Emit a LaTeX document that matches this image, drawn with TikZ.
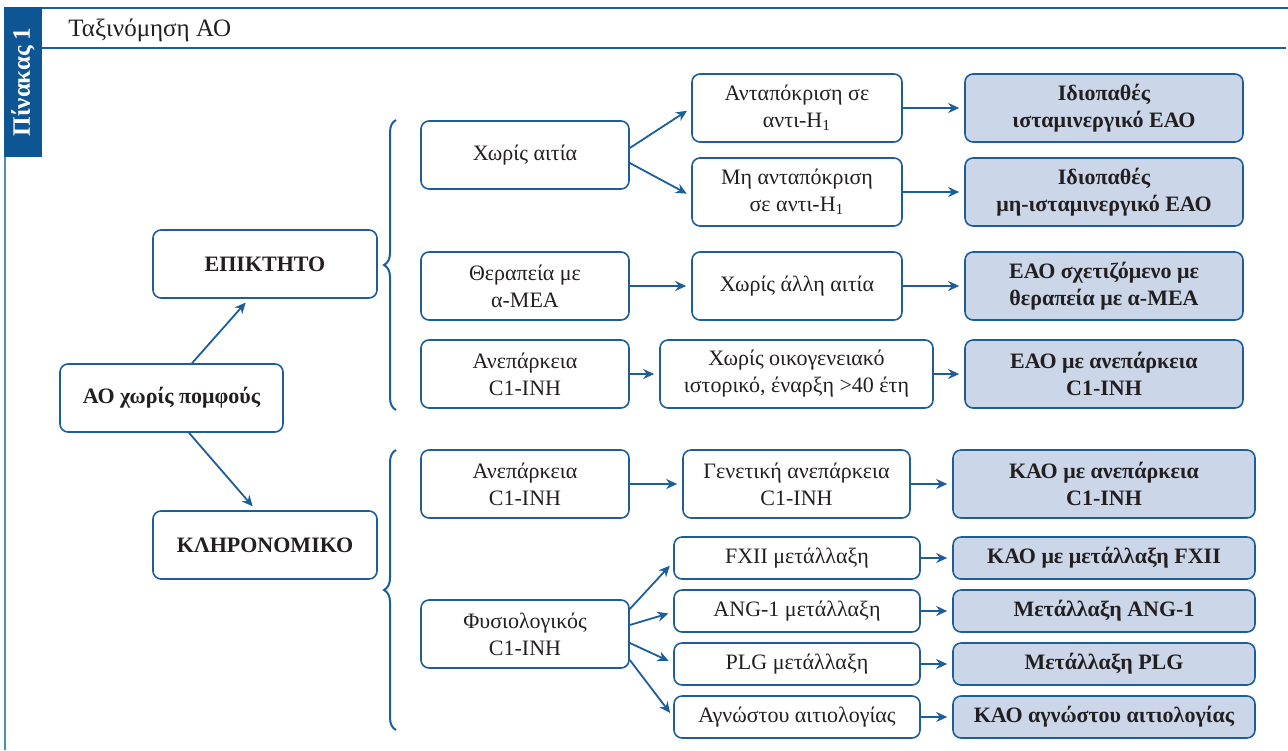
\documentclass[tikz,border=0pt]{standalone}
\usepackage{fontspec}
\setmainfont{Liberation Serif}
\usetikzlibrary{arrows.meta,decorations.pathreplacing,calc}
\definecolor{frameblue}{HTML}{1C5E9A}
\definecolor{tabblue}{HTML}{0E5593}
\definecolor{lightline}{HTML}{4A8DC2}
\definecolor{fillblue}{HTML}{CBD7E9}
\definecolor{txt}{HTML}{231F20}
\begin{document}
\begin{tikzpicture}[x=0.5pt,y=-0.5pt,
  box/.style={draw=frameblue, line width=0.8pt, rounded corners=4pt, align=center,
    inner sep=0pt, text=txt, font=\fontsize{11}{13.5}\selectfont},
  bbox/.style={box, font=\fontsize{11}{13.5}\selectfont\bfseries},
  res/.style={box, fill=fillblue, font=\fontsize{11}{13.5}\selectfont\bfseries},
  arr/.style={draw=frameblue, line width=0.9pt, shorten >=2.5pt,
    -{Stealth[length=5.5pt,width=5pt]}},
  brc/.style={draw=frameblue, line width=1pt, decorate,
    decoration={brace, amplitude=6pt}},
  wA/.style={minimum width=104pt, minimum height=34pt},
  wB/.style={minimum width=105pt, minimum height=34pt},
  wC/.style={minimum width=139pt, minimum height=34pt},
  wD/.style={minimum width=123pt, minimum height=21pt},
  wE/.style={minimum width=151pt, minimum height=21pt},
]
\useasboundingbox (0,0) rectangle (1288,750);

% frame
\fill[tabblue] (4,7) rectangle (42,157);
\node[rotate=90, text=white, inner sep=0pt, font=\fontsize{12.5}{14}\selectfont\bfseries] (tab) at (23,82) {Πίνακας 1};
\draw[frameblue, line width=0.8pt] (42,8) -- (1288,8);
\draw[frameblue, line width=0.8pt] (42,48) -- (1286,48);
\draw[lightline, line width=1pt] (5,157) -- (5,750);
\node[anchor=base west, inner sep=0pt, text=txt, font=\fontsize{12.5}{14}\selectfont] (title) at (68,36) {Ταξινόμηση ΑΟ};

% column 1
\node[bbox, minimum width=111.5pt, minimum height=34pt] (root) at (171.5,398) {ΑΟ χωρίς πομφούς};
\node[bbox, minimum width=112pt, minimum height=34pt] (acq) at (265,264) {ΕΠΙΚΤΗΤΟ};
\node[bbox, minimum width=112pt, minimum height=34pt] (her) at (265,545) {ΚΛΗΡΟΝΟΜΙΚΟ};

% column 2
\node[box, wA] (c2a) at (525,155) {Χωρίς αιτία};
\node[box, wA] (c2b) at (525,286) {Θεραπεία με\\α-ΜΕΑ};
\node[box, wA] (c2c) at (525,374) {Ανεπάρκεια\\C1-INH};
\node[box, wA] (c2d) at (525,484) {Ανεπάρκεια\\C1-INH};
\node[box, wA] (c2e) at (525,634) {Φυσιολογικός\\C1-INH};

% column 3
\node[box, wB] (c3a) at (797,108) {Ανταπόκριση σε\\αντι-H\textsubscript{1}};
\node[box, wB] (c3b) at (797,192) {Μη ανταπόκριση\\σε αντι-H\textsubscript{1}};
\node[box, wB] (c3c) at (797,286) {Χωρίς άλλη αιτία};
\node[box, minimum width=136.5pt, minimum height=34pt] (c3d) at (796.5,374) {Χωρίς οικογενειακό\\ιστορικό, έναρξη >40 έτη};
\node[box, minimum width=113.5pt, minimum height=34pt] (c3e) at (796.5,484) {Γενετική ανεπάρκεια\\C1-INH};
\node[box, wD] (c3f) at (797,558) {FXII μετάλλαξη};
\node[box, wD] (c3g) at (797,611) {ANG-1 μετάλλαξη};
\node[box, wD] (c3h) at (797,664) {PLG μετάλλαξη};
\node[box, wD] (c3i) at (797,717) {Αγνώστου αιτιολογίας};

% column 4
\node[res, wC] (c4a) at (1104,108) {Ιδιοπαθές\\ισταμινεργικό ΕΑΟ};
\node[res, wC] (c4b) at (1104,192) {Ιδιοπαθές\\μη-ισταμινεργικό ΕΑΟ};
\node[res, wC] (c4c) at (1104,286) {ΕΑΟ σχετιζόμενο με\\θεραπεία με α-ΜΕΑ};
\node[res, wC] (c4d) at (1104,374) {ΕΑΟ με ανεπάρκεια\\C1-INH};
\node[res, minimum width=151pt, minimum height=34pt] (c4e) at (1104,484) {ΚΑΟ με ανεπάρκεια\\C1-INH};
\node[res, wE] (c4f) at (1104,558) {ΚΑΟ με μετάλλαξη FXII};
\node[res, wE] (c4g) at (1104,611) {Μετάλλαξη ANG-1};
\node[res, wE] (c4h) at (1104,664) {Μετάλλαξη PLG};
\node[res, wE] (c4i) at (1104,717) {ΚΑΟ αγνώστου αιτιολογίας};

% braces
\draw[brc] (396,410) -- (396,120);
\draw[brc] (396,730) -- (396,450);

% arrows
\draw[arr] ([xshift=10.25pt]root.north) -- ([xshift=-8pt]acq.south);
\draw[arr] ([xshift=8.75pt]root.south) -- ([xshift=-4.5pt]her.north);

\draw[arr] ([yshift=3.5pt]c2a.east) -- (c3a.west);
\draw[arr] ([yshift=-4pt]c2a.east) -- ([yshift=-2pt]c3b.west);
\draw[arr] (c2b) -- (c3c);
\draw[arr] (c2c) -- (c3d);
\draw[arr] (c2d) -- (c3e);
\draw[arr] ([yshift=12.5pt]c2e.east) -- ([yshift=-2pt]c3f.west);
\draw[arr] ([yshift=4.5pt]c2e.east) -- ([yshift=-0.5pt]c3g.west);
\draw[arr] ([yshift=-4.5pt]c2e.east) -- ([yshift=0.5pt]c3h.west);
\draw[arr] ([yshift=-13pt]c2e.east) -- (c3i.west);

\draw[arr] (c3a) -- (c4a);
\draw[arr] (c3b) -- (c4b);
\draw[arr] (c3c) -- (c4c);
\draw[arr] (c3d) -- (c4d);
\draw[arr] (c3e) -- (c4e);
\draw[arr] (c3f) -- (c4f);
\draw[arr] (c3g) -- (c4g);
\draw[arr] (c3h) -- (c4h);
\draw[arr] (c3i) -- (c4i);
\end{tikzpicture}
\end{document}
